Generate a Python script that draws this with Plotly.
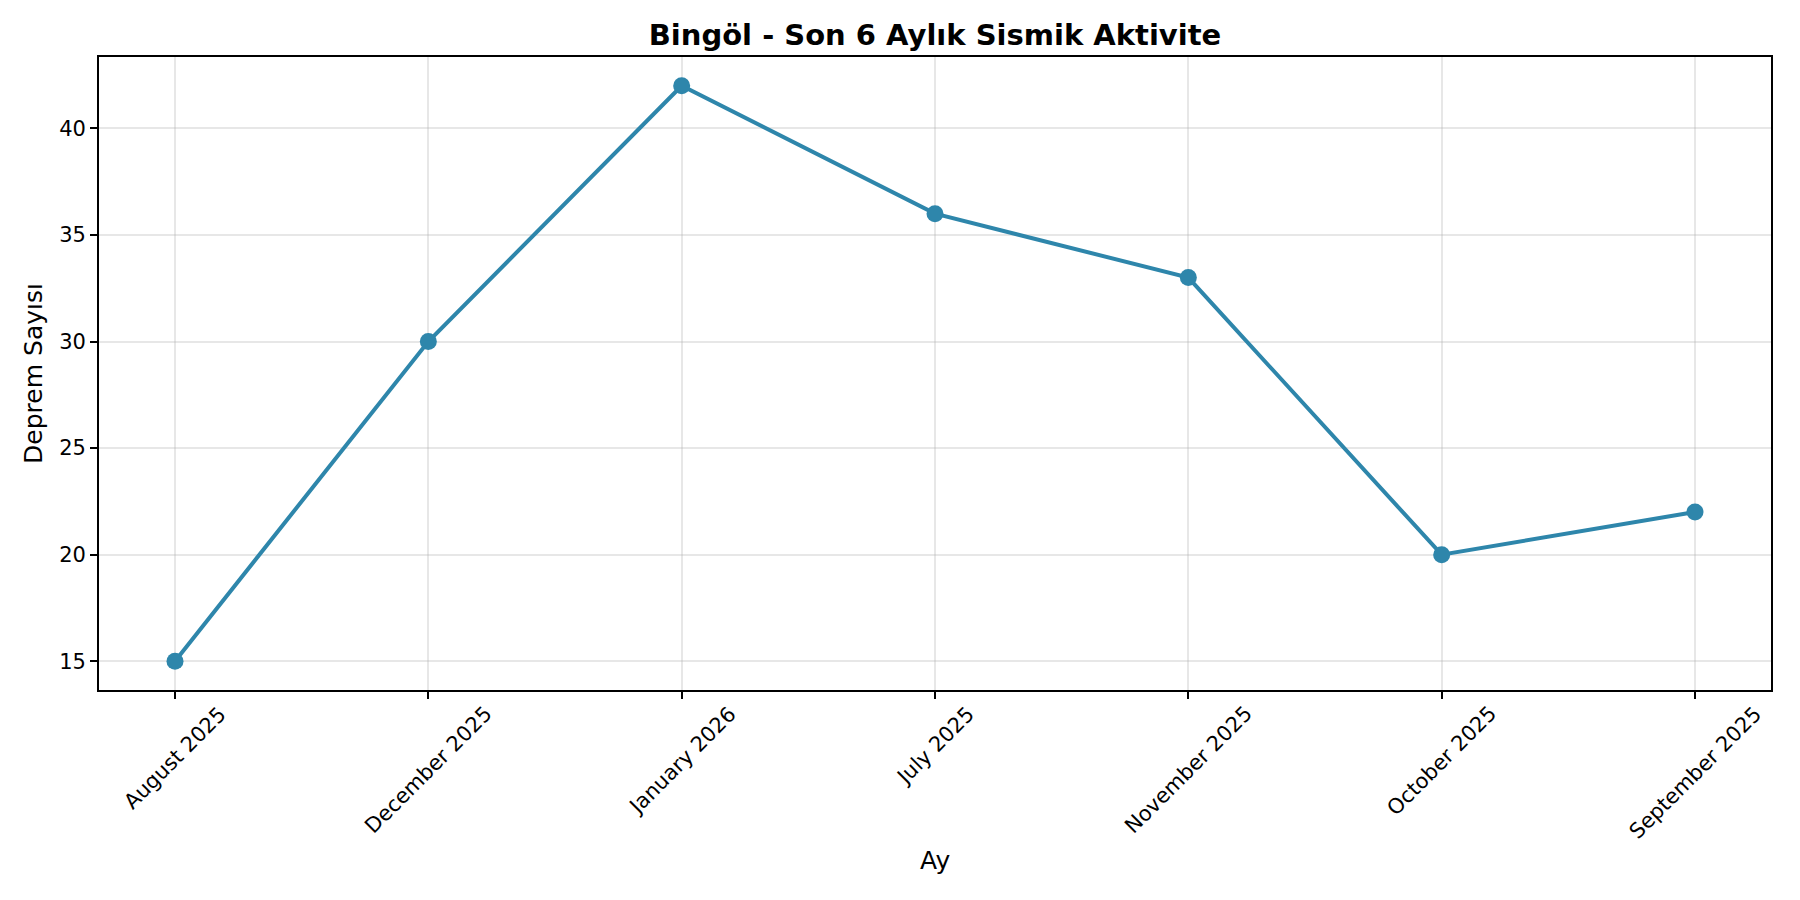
import plotly.graph_objects as go

# Monthly earthquake counts (as plotted, alphabetical month order)
months = ["August 2025", "December 2025", "January 2026", "July 2025",
          "November 2025", "October 2025", "September 2025"]
counts = [15, 30, 42, 36, 33, 20, 22]
y_ticks = [15, 20, 25, 30, 35, 40]

title_text = "Bingöl - Son 6 Aylık Sismik Aktivite"
x_title = "Ay"
y_title = "Deprem Sayısı"

line_color = "#2E86AB"
font_family = "DejaVu Sans"

fig = go.Figure()
fig.add_trace(go.Scatter(
    x=months, y=counts,
    mode="lines+markers",
    line=dict(color=line_color, width=4),
    marker=dict(color=line_color, size=17),
    showlegend=False,
))

# rotated month labels, centred under each tick like matplotlib does
for m in months:
    fig.add_annotation(
        x=m, y=0, xref="x", yref="paper",
        text=m, showarrow=False, textangle=-45,
        xanchor="center", yanchor="top", yshift=-9,
        font=dict(family=font_family, size=21, color="black"),
    )

fig.update_layout(
    width=1800, height=900,
    paper_bgcolor="white", plot_bgcolor="white",
    margin=dict(l=91, r=37, t=49, b=218),
    font=dict(family=font_family, color="black"),
    title=dict(text="<b>" + title_text + "</b>", x=0.5, xanchor="center",
               xref="paper", y=1 - 26.5 / 900, yanchor="middle",
               font=dict(family=font_family, size=29, color="black")),
)

fig.update_xaxes(
    type="category", categoryorder="array", categoryarray=months,
    range=[-0.3, 6.3], showticklabels=False,
    showgrid=True, gridcolor="rgba(176,176,176,0.3)", gridwidth=1.5,
    ticks="outside", ticklen=7, tickwidth=1.7, tickcolor="black",
    showline=True, linecolor="black", linewidth=1.7, mirror=True,
    zeroline=False,
)
fig.update_yaxes(
    range=[13.65, 43.35], tickvals=y_ticks,
    tickfont=dict(family=font_family, size=21, color="black"),
    showgrid=True, gridcolor="rgba(176,176,176,0.3)", gridwidth=1.5,
    ticks="outside", ticklen=7, tickwidth=1.7, tickcolor="black",
    showline=True, linecolor="black", linewidth=1.7, mirror=True,
    zeroline=False,
    title=dict(text=y_title, font=dict(family=font_family, size=25, color="black"),
               standoff=9),
)

# x axis title placed under the rotated labels
fig.add_annotation(
    x=0.5, y=-0.27, xref="paper", yref="paper",
    text=x_title, showarrow=False, xanchor="center", yanchor="middle",
    font=dict(family=font_family, size=25, color="black"),
)

fig.write_html("out.html")
